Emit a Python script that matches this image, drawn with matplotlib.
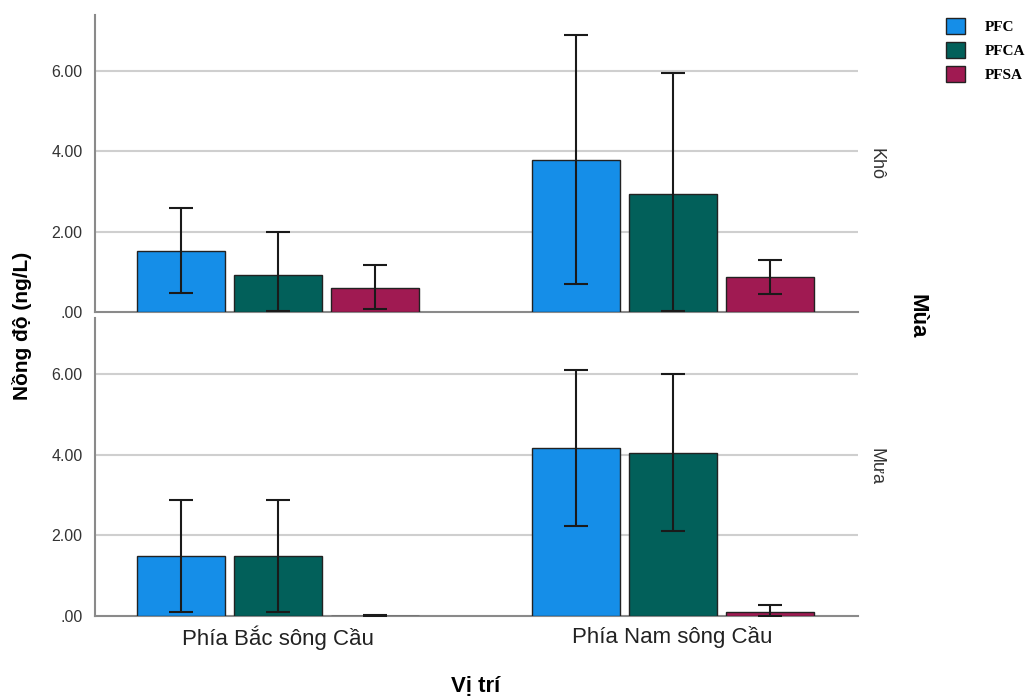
import matplotlib
matplotlib.use("Agg")
import matplotlib.pyplot as plt
import numpy as np

locations = ["Phía Bắc sông Cầu", "Phía Nam sông Cầu"]
seasons = ["Khô", "Mưa"]
series = ["PFC", "PFCA", "PFSA"]

# means[season][series] -> values per location
kho_mean = {"PFC": [1.53, 3.79], "PFCA": [0.93, 2.95], "PFSA": [0.60, 0.87]}
kho_low = {"PFC": [0.47, 0.71], "PFCA": [0.03, 0.02], "PFSA": [0.07, 0.45]}
kho_high = {"PFC": [2.60, 6.89], "PFCA": [1.99, 5.96], "PFSA": [1.16, 1.29]}

mua_mean = {"PFC": [1.49, 4.17], "PFCA": [1.49, 4.06], "PFSA": [0.005, 0.10]}
mua_low = {"PFC": [0.11, 2.24], "PFCA": [0.11, 2.12], "PFSA": [0.0, 0.0]}
mua_high = {"PFC": [2.89, 6.12], "PFCA": [2.89, 6.02], "PFSA": [0.015, 0.28]}

yticks = [0, 2, 4, 6]
colors = {"PFC": "#158ee8", "PFCA": "#02605a", "PFSA": "#a01a52"}

plt.rcParams['font.family'] = ['Liberation Sans', 'DejaVu Sans']

fig = plt.figure(figsize=(10.28, 6.99), dpi=100)
W, H = 1028, 699
left, right = 95 / W, 858 / W
ax_top = fig.add_axes([left, 1 - 312 / H, right - left, 297 / H])
ax_bot = fig.add_axes([left, 1 - 616 / H, right - left, 298 / H])

x = np.arange(len(locations))
bw = 0.223
step = 0.246
handles = []
for ax, mean, low, high, season in [(ax_top, kho_mean, kho_low, kho_high, seasons[0]),
                                    (ax_bot, mua_mean, mua_low, mua_high, seasons[1])]:
    for i, s in enumerate(series):
        pos = x + (i - 1) * step
        m = np.array(mean[s]); lo = np.array(low[s]); hi = np.array(high[s])
        b = ax.bar(pos, m, width=bw, color=colors[s], edgecolor="#222222",
                   linewidth=1.0, zorder=3, label=s)
        ax.errorbar(pos, m, yerr=[m - lo, hi - m], fmt="none", ecolor="#1a1a1a",
                    elinewidth=1.5, capsize=8.5, capthick=1.5, zorder=4)
        if ax is ax_top:
            handles.append(b)
    ax.set_xlim(-0.465, 1.47)
    ax.set_ylim(0, 7.4)
    ax.set_yticks(yticks)
    ax.set_yticklabels([(f"{v:.2f}").lstrip("0") if v < 1 else f"{v:.2f}" for v in yticks],
                       fontsize=11.5, color="#333333")
    ax.tick_params(axis="y", length=0, pad=9)
    ax.tick_params(axis="x", length=0)
    for v in yticks[1:]:
        ax.axhline(v, color="#cfcfcf", linewidth=1.5, zorder=1)
    for sp in ["top", "right"]:
        ax.spines[sp].set_visible(False)
    for sp in ["left", "bottom"]:
        ax.spines[sp].set_color("#8a8a8a")
        ax.spines[sp].set_linewidth(1.5)
    ax.text(1.012, 0.5, season, transform=ax.transAxes, rotation=270,
            ha="left", va="center", fontsize=13, color="#333333")

ax_top.set_xticks([])
ax_bot.set_xticks(x)
ax_bot.set_xticklabels(locations, fontsize=16, color="#222222")
ax_bot.tick_params(axis="x", pad=7)

fig.text(22 / W, 1 - 326 / H, "Nồng độ (ng/L)", rotation=90, ha="center", va="center",
         fontsize=15, fontweight="bold")
fig.text(476 / W, 1 - 686 / H, "Vị trí", ha="center", va="center",
         fontsize=16, fontweight="bold")
fig.text(917 / W, 1 - 316 / H, "Mùa", rotation=270, ha="center", va="center",
         fontsize=16, fontweight="bold")

fig.legend(handles, series, loc="upper left", bbox_to_anchor=(946 / W, 1 - 18 / H),
           frameon=False, borderpad=0, borderaxespad=0,
           handlelength=1.25, handleheight=1.25, handletextpad=1.3,
           labelspacing=0.5, prop={"family": "Liberation Serif", "weight": "bold", "size": 11})

fig.savefig("out.png", dpi=100)
